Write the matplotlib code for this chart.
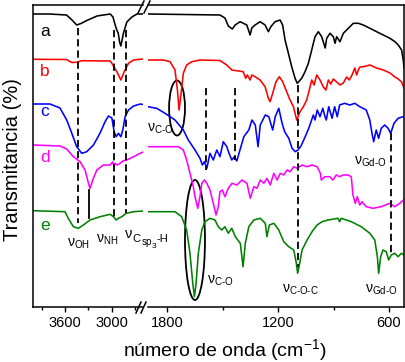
import matplotlib
matplotlib.use("Agg")
import matplotlib.pyplot as plt
from matplotlib.lines import Line2D
from matplotlib.patches import Ellipse

plt.rcParams['font.family'] = ['Liberation Sans', 'DejaVu Sans']
plt.rcParams['mathtext.fontset'] = 'custom'
plt.rcParams['mathtext.rm'] = 'Liberation Sans'
plt.rcParams['mathtext.it'] = 'Liberation Sans:italic'
plt.rcParams['mathtext.bf'] = 'Liberation Sans:bold'

# ---------------- data: (wavenumber cm-1, transmittance a.u., stacked) ----------------
a_hi = [(4010, 294), (3800, 294), (3580, 293), (3510, 288), (3450, 283), (3395, 284.5), (3320, 287.5),
        (3190, 292), (3020, 294), (2985, 291), (2957, 283), (2936, 278), (2918, 275), (2900, 266),
        (2884, 262), (2850, 275), (2807, 286), (2742, 291), (2678, 294), (2600, 294)]
b_hi = [(4010, 248.7), (3580, 248.5), (3514, 245.5), (3450, 245.7), (3385, 247.3), (3020, 247),
        (2999, 244.7), (2935, 236.3), (2884, 228), (2841, 236.3), (2786, 244.7), (2721, 248), (2600, 249)]
c_hi = [(4010, 204), (3793, 204), (3664, 200), (3578, 188), (3514, 175), (3450, 161.3), (3385, 154.7),
        (3321, 156.3), (3235, 163), (3150, 175), (3086, 186.3), (3043, 192), (2999, 190), (2970, 176.3),
        (2944, 171.3), (2915, 174.7), (2884, 171.3), (2859, 178), (2829, 191.3), (2786, 198), (2721, 202),
        (2636, 204), (2600, 203.5)]
d_hi = [(4010, 163), (3664, 162), (3578, 159), (3493, 151.3), (3407, 146.3), (3343, 138), (3300, 125),
        (3279, 119.7), (3245, 128), (3192, 138), (3107, 143), (3021, 143), (2990, 146), (2970, 142),
        (2957, 144.7), (2930, 143), (2893, 144.7), (2860, 147), (2807, 148), (2721, 151.3), (2636, 154.7),
        (2600, 156)]
e_hi = [(4010, 97.3), (3600, 96.3), (3558, 89.7), (3493, 81.3), (3429, 79.7), (3364, 83), (3279, 88),
        (3150, 91.3), (3021, 93.7), (2978, 91.3), (2944, 88), (2915, 89.7), (2871, 91.3), (2816, 94.7),
        (2721, 96.3), (2600, 97)]

a_lo = [(1903, 294), (1514, 293), (1487, 290), (1469, 282), (1447, 279), (1432, 283), (1405, 286.3),
        (1369, 283), (1351, 273), (1342, 280), (1324, 283), (1297, 286.3), (1270, 283), (1252, 276.3),
        (1239, 281.3), (1216, 286.3), (1189, 288), (1175, 283), (1162, 268), (1144, 254.7), (1126, 241.3),
        (1108, 229.7), (1096, 224.7), (1072, 229.7), (1054, 236.3), (1036, 244.7), (1018, 258),
        (1000, 271.3), (982, 276.3), (964, 271.3), (945, 260), (937, 269.7), (919, 274.7), (901, 271.3),
        (892, 264.7), (883, 271.3), (865, 266.3), (847, 274.7), (820, 279.7), (793, 284.7), (766, 284.7),
        (739, 283), (703, 279.7), (667, 276.3), (631, 273), (595, 269.7), (568, 266.3), (550, 263),
        (532, 258), (523, 248), (519, 240)]
b_lo = [(1903, 248), (1820, 248), (1784, 246.3), (1757, 238), (1744, 218), (1735, 198), (1724, 214.7),
        (1712, 234.7), (1694, 243), (1666, 246.3), (1622, 248), (1514, 247.5), (1477, 243), (1450, 238),
        (1423, 237.3), (1388, 236.3), (1375, 229.7), (1366, 233), (1351, 228), (1342, 233), (1324, 231.3),
        (1297, 228), (1270, 221.3), (1252, 209.7), (1243, 206.3), (1229, 214.7), (1211, 226.3),
        (1193, 231.3), (1175, 226.3), (1157, 218), (1139, 209.7), (1117, 201.3), (1099, 188), (1081, 196.3),
        (1063, 201.3), (1045, 208), (1031, 218), (1018, 228), (1005, 223), (991, 233), (973, 228),
        (955, 221), (941, 218), (928, 228), (915, 224), (901, 229), (883, 226), (865, 223), (847, 225),
        (829, 231), (815, 228), (800, 233), (785, 240), (775, 233), (766, 238), (757, 241), (739, 241.3),
        (703, 243), (667, 240), (631, 238), (595, 235), (568, 231), (550, 229), (532, 226), (523, 222),
        (519, 220)]
c_lo = [(1903, 201.3), (1856, 199.7), (1811, 194.7), (1757, 188), (1712, 178), (1685, 168), (1649, 158),
        (1622, 149.7), (1609, 143), (1598, 146.3), (1585, 139.7), (1568, 154.7), (1550, 148), (1531, 158),
        (1514, 151.3), (1496, 166.3), (1477, 161.3), (1465, 154.7), (1450, 148), (1436, 151.3),
        (1423, 147), (1411, 154.7), (1385, 171.3), (1358, 178), (1341, 188), (1323, 183), (1308, 161.3),
        (1296, 183), (1269, 193), (1250, 191.3), (1229, 178), (1215, 191.3), (1196, 199.7), (1178, 184.7),
        (1164, 176.3), (1142, 169.7), (1124, 159.7), (1107, 156.3), (1092, 158), (1076, 162), (1061, 168),
        (1034, 179.7), (1009, 193), (1000, 188), (988, 198), (973, 191.3), (958, 199.7), (946, 191.3),
        (939, 188), (926, 201.3), (908, 189.7), (894, 201.3), (880, 191.3), (867, 203), (840, 204.7),
        (812, 203), (785, 204.7), (758, 201.3), (723, 198), (704, 188), (692, 174.7), (683, 166.3),
        (669, 178), (656, 169.7), (642, 179.7), (623, 183), (605, 179.7), (591, 174.7), (573, 184.7),
        (551, 189.7), (524, 191.3), (519, 191)]
d_lo = [(1903, 161.3), (1739, 161.3), (1712, 158), (1694, 148), (1676, 134.7), (1658, 121.3), (1649, 111.3),
        (1634, 99.7), (1622, 111.3), (1612, 124.7), (1598, 128), (1585, 124.7), (1568, 118), (1550, 104.7),
        (1535, 93), (1523, 101.3), (1514, 116.3), (1501, 118), (1487, 111.3), (1469, 119.7), (1449, 124.7),
        (1422, 123), (1395, 128), (1368, 124.7), (1350, 109.7), (1331, 121.3), (1314, 119.7), (1296, 128),
        (1277, 124.7), (1260, 129.7), (1242, 123), (1223, 134.7), (1205, 128), (1188, 134.7), (1169, 133),
        (1151, 138), (1134, 136.3), (1115, 141.3), (1097, 139.7), (1070, 143), (1043, 141.3), (1016, 143),
        (989, 141.3), (971, 134.7), (966, 128), (948, 131.3), (921, 131.3), (903, 128), (885, 133),
        (867, 131.3), (849, 133), (822, 133), (804, 131.3), (795, 113), (782, 104.7), (771, 111.3),
        (758, 103), (746, 106.3), (723, 101.3), (687, 99.7), (642, 101.3), (596, 104.7), (569, 101.3),
        (542, 104.7), (521, 108)]
e_lo = [(1903, 96.3), (1757, 96.3), (1721, 91.3), (1694, 78), (1676, 54.7), (1661, 24.7), (1652, 11.3),
        (1643, 24.7), (1631, 54.7), (1612, 78), (1595, 86.3), (1568, 89.7), (1541, 88), (1523, 81.3),
        (1504, 78), (1487, 81.3), (1469, 74.7), (1450, 79.7), (1431, 71.3), (1404, 64.7), (1389, 41.3),
        (1377, 64.7), (1358, 81.3), (1331, 88), (1296, 89.7), (1269, 84.7), (1260, 71.3), (1247, 83),
        (1223, 84.7), (1196, 78), (1169, 66.3), (1142, 61.3), (1115, 58), (1101, 44.7), (1094, 34.7),
        (1083, 44.7), (1070, 58), (1043, 68), (1016, 76.3), (989, 83), (962, 86.3), (930, 88), (876, 89.7),
        (867, 86.3), (858, 89.7), (804, 86.3), (750, 81.3), (704, 74.7), (677, 68), (663, 51.3),
        (656, 34.7), (645, 51.3), (633, 58), (615, 56.3), (602, 48), (588, 53), (569, 54.7), (551, 51.3),
        (533, 54.7), (519, 53)]

sample_names = ['a', 'b', 'c', 'd', 'e']
sample_colors = ['#000000', '#ff0000', '#0000ff', '#ff00ff', '#008000']
sample_label_T = [276, 236, 196, 151, 83]

hi_curves = [a_hi, b_hi, c_hi, d_hi, e_hi]
lo_curves = [a_lo, b_lo, c_lo, d_lo, e_lo]

# guide lines: (wavenumber, T_top, T_bottom)
hi_dashed = [(3437, 280, 85), (2975, 278, 88), (2822, 278, 95)]
hi_solid = [(3288, 118, 90)]
lo_dashed = [(1589, 220, 138), (1432, 220, 148), (1094, 223, 41), (591, 175, 55)]

hi_labels = [(3433, 64, r'$\mathrm{ν}_{\mathrm{OH}}$', 'center'),
             (3060, 68, r'$\mathrm{ν}_{\mathrm{NH}}$', 'center')]
# C(sp3)-H label pieces: (text, fontsize, x offset pt, y offset pt)
csp3_pos = (2830, 70)
csp3_parts = [('C', 8, 0.3, -2.2), ('sp', 7, 0.2, -2.0), ('3', 6, 0.2, -2.2), ('-H', 8, 0.3, 4.2)]
lo_labels = [(1908, 179, r'$\mathrm{ν}_{\text{C-O}}$', 'left'),
             (1584, 27, r'$\mathrm{ν}_{\text{C-O}}$', 'left'),
             (1081, 18, r'$\mathrm{ν}_{\text{C-O-C}}$', 'center'),
             (643, 18, r'$\mathrm{ν}_{\text{Gd-O}}$', 'center'),
             (703, 146, r'$\mathrm{ν}_{\text{Gd-O}}$', 'center')]
# ellipses: (center wn, center T, width wn, height T)
lo_ellipses = [(1746, 200, 86, 55), (1649, 68, 108, 120)]

# ---------------- figure ----------------
W, H = 405, 362
fig = plt.figure(figsize=(W / 100, H / 100), dpi=100)
ax1 = fig.add_axes([33 / W, 55 / H, 110 / W, 302 / H])
ax2 = fig.add_axes([148 / W, 55 / H, 256 / W, 302 / H])
ax2.patch.set_visible(False)
ax1.set_zorder(3)
ax1.patch.set_visible(False)

for ax, curves in ((ax1, hi_curves), (ax2, lo_curves)):
    for pts, col in zip(curves, sample_colors):
        xs = [p[0] for p in pts]
        ys = [p[1] for p in pts]
        ax.plot(xs, ys, color=col, lw=1.15, solid_joinstyle='round')
    ax.set_ylim(1, 303)
    ax.set_yticks([])
    for s in ax.spines.values():
        s.set_linewidth(1.1)
    ax.tick_params(axis='x', which='major', direction='out', length=3.5, width=1,
                   labelsize=10.5, pad=3)
    ax.tick_params(axis='x', which='minor', direction='out', length=2.5, width=1)

ax1.set_xlim(4010, 2600)
ax1.set_xticks([3600, 3000])
ax1.set_xticks([3900, 3300, 2700], minor=True)
ax1.spines['right'].set_visible(False)

ax2.set_xlim(1903, 519)
ax2.set_xticks([1800, 1200, 600])
ax2.set_xticks([1500, 900], minor=True)
ax2.spines['left'].set_visible(False)

dash = (4, 2.2)
for wn, t0, t1 in hi_dashed:
    ax1.plot([wn, wn], [t0, t1], color='k', lw=1.3, dashes=dash)
for wn, t0, t1 in hi_solid:
    ax1.plot([wn, wn], [t0, t1], color='k', lw=1.3)
for wn, t0, t1 in lo_dashed:
    ax2.plot([wn, wn], [t0, t1], color='k', lw=1.3, dashes=dash)

for name, col, t in zip(sample_names, sample_colors, sample_label_T):
    ax1.text(3860, t, name, color=col, fontsize=12.5, ha='center', va='center')

for wn, t, s, ha in hi_labels:
    ax1.text(wn, t, s, fontsize=10, ha=ha, va='center', clip_on=False)
for wn, t, s, ha in lo_labels:
    ax2.text(wn, t, s, fontsize=10, ha=ha, va='center', clip_on=False)

# chained C(sp3)-H label
prev = ax1.text(csp3_pos[0], csp3_pos[1], 'ν', fontsize=10.5, ha='left', va='baseline',
                clip_on=False)
for txt, fs, dx, dy in csp3_parts:
    prev = ax1.annotate(txt, xy=(1, 0), xycoords=prev, xytext=(dx, dy),
                        textcoords='offset points', fontsize=fs, ha='left', va='bottom',
                        annotation_clip=False)

for cx, cy, w, h in lo_ellipses:
    ax2.add_patch(Ellipse((cx, cy), w, h, fill=False, edgecolor='k', lw=1.3))

# break marks
def fline(x0, y0, x1, y1):
    fig.add_artist(Line2D([x0 / W, x1 / W], [1 - y0 / H, 1 - y1 / H],
                          transform=fig.transFigure, color='k', lw=1.1))

fline(138, 13, 144, 1)
fline(144, 13, 150, 1)
fline(136, 313, 141, 302)
fline(141, 313, 146, 302)

fig.text(13 / W, 1 - 160 / H, 'Transmitancia (%)', rotation=90, ha='center', va='center',
         fontsize=14.5)
fig.text(225 / W, 1 - 350 / H, r'número de onda (cm$^{-1}$)', ha='center', va='center',
         fontsize=14)

fig.savefig('out.png', dpi=100)
